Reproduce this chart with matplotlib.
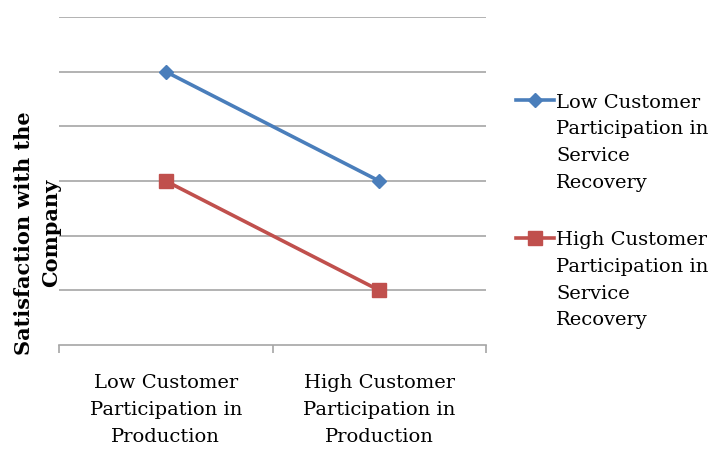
import numpy as np
import matplotlib
matplotlib.use("Agg")
import matplotlib.pyplot as plt

categories = ["Low Customer\nParticipation in\nProduction",
              "High Customer\nParticipation in\nProduction"]
low_recovery = [5, 3]
high_recovery = [3, 1]
series_names = ["Low Customer\nParticipation in\nService\nRecovery",
                "High Customer\nParticipation in\nService\nRecovery"]

plt.rcParams['font.family'] = ['DejaVu Serif']
fs = 14

fig = plt.figure(figsize=(7.26, 4.49), dpi=100)
ax = fig.add_axes([59/726, 1-345/449, 427/726, 328/449])

x = np.arange(len(categories))
ax.plot(x, low_recovery, color="#4A7EBB", lw=2.6, marker="D", ms=7, label=series_names[0])
ax.plot(x, high_recovery, color="#C0504D", lw=2.6, marker="s", ms=10, label=series_names[1])

ax.set_xlim(-0.5, 1.5)
ax.set_ylim(0, 6)
ax.set_yticks(np.arange(1, 7))
ax.yaxis.grid(True, color="#A6A6A6", lw=1.2)
ax.set_axisbelow(True)
ax.tick_params(axis="y", length=0, labelleft=False)
ax.set_xticks(x)
ax.set_xticklabels(categories, fontsize=fs, linespacing=1.62)
ax.tick_params(axis="x", length=0, pad=21)
ax.set_xticks([-0.5, 0.5, 1.5], minor=True)
ax.tick_params(axis="x", which="minor", length=6, color="#A6A6A6", width=1.2)
for s in ["top", "right", "left"]:
    ax.spines[s].set_visible(False)
ax.spines["bottom"].set_color("#A6A6A6")
ax.spines["bottom"].set_linewidth(1.2)

fig.text(38/726, 1-233/449, "Satisfaction with the\nCompany", rotation=90,
         ha="center", va="center", fontsize=15, fontweight="bold", linespacing=1.45)

leg = ax.legend(loc="upper left", bbox_to_anchor=(498/726, 1-76/449),
                bbox_transform=fig.transFigure, frameon=False, fontsize=fs,
                handlelength=2.0, handletextpad=0.1, labelspacing=2.05)
for t in leg.get_texts():
    t.set_linespacing(1.62)
for col in leg._legend_handle_box.get_children():
    for row in col.get_children():
        row.align = "top"

fig.savefig("out.png", dpi=100)
